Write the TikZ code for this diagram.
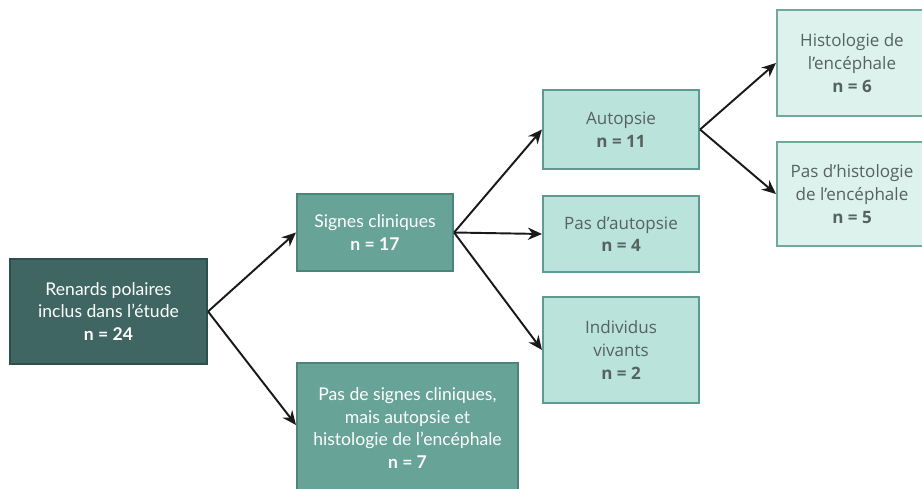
\documentclass[tikz,border=0pt]{standalone}
\usepackage{fontspec}
\setmainfont{Lato}
\newfontfamily\opensans{Open Sans}
\usetikzlibrary{arrows.meta}
\definecolor{darkteal}{HTML}{3F6662}
\definecolor{darkline}{HTML}{2E504C}
\definecolor{midteal}{HTML}{68A397}
\definecolor{midline}{HTML}{4C8478}
\definecolor{lightteal}{HTML}{B9E3DB}
\definecolor{lightline}{HTML}{5E9A8F}
\definecolor{paleteal}{HTML}{DDF2EC}
\definecolor{paleline}{HTML}{6EA99C}
\definecolor{greytext}{HTML}{56625F}
\begin{document}
\begin{tikzpicture}[x=0.02cm,y=-0.02cm,
  box/.style={draw,line width=1.2pt,align=center,inner sep=0pt,font=\fontsize{10}{13}\selectfont},
  darkbox/.style={box,fill=darkteal,draw=darkline,text=white},
  midbox/.style={box,fill=midteal,draw=midline,text=white},
  lightbox/.style={box,fill=lightteal,draw=lightline,text=greytext,font=\opensans\fontsize{9.7}{13}\selectfont},
  palebox/.style={box,fill=paleteal,draw=paleline,text=greytext,font=\opensans\fontsize{9.7}{13}\selectfont},
  link/.style={-{Stealth[length=8pt,width=7pt]},line width=1.1pt,draw=black!90}]
\useasboundingbox (0,0) rectangle (922,489);
\clip (0,0) rectangle (922,489);
%boxes
\node[darkbox,minimum width=3.94cm,minimum height=2.1cm] (renards) at (108.5,311.5)
  {Renards polaires\\inclus dans l’étude\\\textbf{n = 24}};
\node[midbox,minimum width=3.12cm,minimum height=1.54cm] (signes) at (375,232.5)
  {Signes cliniques\\\textbf{n = 17}};
\node[midbox,minimum width=4.42cm,minimum height=2.6cm] (sanssignes) at (407.5,428)
  {Pas de signes cliniques,\\mais autopsie et\\histologie de l’encéphale\\\textbf{n = 7}};
\node[lightbox,minimum width=3.12cm,minimum height=1.58cm] (autopsie) at (621,129.5)
  {Autopsie\\\textbf{n = 11}};
\node[lightbox,minimum width=3.12cm,minimum height=1.52cm] (sansautopsie) at (621,234)
  {Pas d’autopsie\\\textbf{n = 4}};
\node[lightbox,minimum width=3.12cm,minimum height=2.12cm] (vivants) at (621,350)
  {Individus\\vivants\\\textbf{n = 2}};
\node[palebox,minimum width=3.0cm,minimum height=2.12cm] (histo) at (852,63)
  {Histologie de\\l’encéphale\\\textbf{n = 6}};
\node[palebox,minimum width=3.0cm,minimum height=2.08cm] (sanshisto) at (852,194)
  {Pas d’histologie\\de l’encéphale\\\textbf{n = 5}};
%arrows
\draw[link] (renards.east) -- (signes.west);
\draw[link] (renards.east) -- (sanssignes.west |- 0,425);
\draw[link] (signes.east) -- (autopsie.west);
\draw[link] (signes.east) -- (sansautopsie.west);
\draw[link] (signes.east) -- (vivants.west);
\draw[link] (autopsie.east) -- (histo.west);
\draw[link] (autopsie.east) -- (sanshisto.west);
\end{tikzpicture}
\end{document}
